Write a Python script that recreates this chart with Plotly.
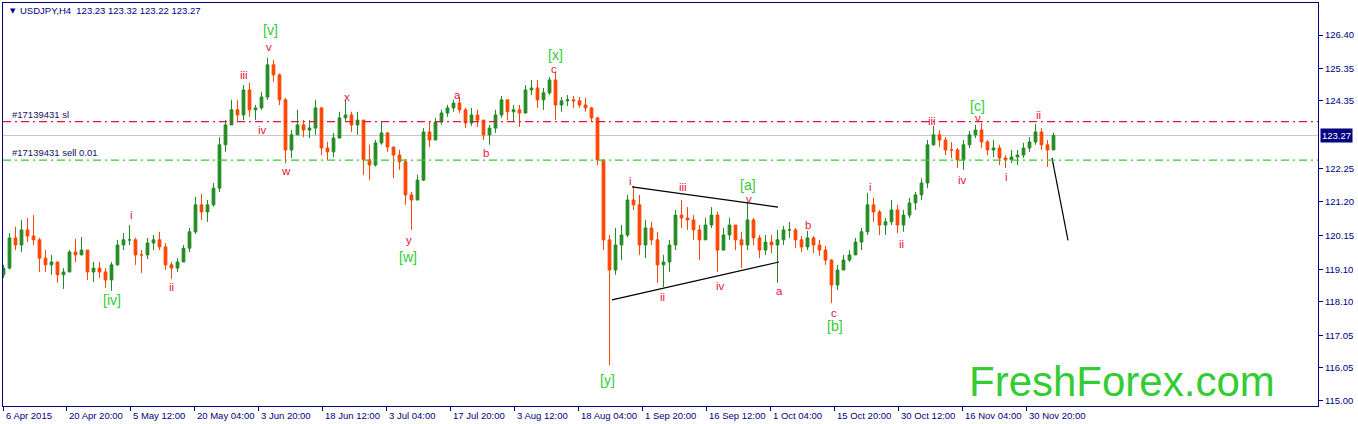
import plotly.graph_objects as go
from datetime import datetime, timedelta

# ---------------- DATA (USDJPY, aggregated to daily candles) ----------------
first_open = 118.93
closes = [119.14, 120.08, 119.86, 120.33, 120.14, 120.02, 119.45, 119.24, 119.33, 118.93,
          119.02, 119.64, 119.55, 119.70, 119.02, 119.14, 119.02, 118.77, 119.24, 119.86,
          120.02, 120.02, 119.55, 119.55, 119.92, 120.02, 119.80, 119.24, 119.14, 119.33,
          119.76, 120.27, 121.11, 120.89, 121.11, 121.63, 122.98, 123.60, 124.07, 123.91,
          124.69, 124.07, 124.13, 124.47, 125.47, 125.16, 124.38, 122.82, 123.29, 123.60,
          123.44, 123.50, 124.13, 122.88, 122.76, 123.19, 123.82, 123.91, 123.60, 123.75,
          122.51, 122.35, 123.04, 123.35, 122.91, 122.66, 122.45, 121.42, 121.26, 121.88,
          123.38, 123.13, 123.69, 123.97, 124.13, 124.28, 124.07, 123.66, 123.91, 123.75,
          123.29, 123.50, 123.91, 124.38, 124.01, 124.07, 123.97, 124.69, 124.75, 124.38,
          124.60, 125.00, 124.22, 124.35, 124.38, 124.35, 124.22, 124.13, 123.82, 122.51,
          120.02, 119.08, 119.86, 120.17, 121.26, 121.11, 119.86, 120.39, 120.02, 119.24,
          119.33, 119.86, 120.79, 120.70, 120.64, 120.33, 120.02, 120.48, 120.79, 119.70,
          120.17, 120.48, 120.02, 119.86, 120.64, 120.08, 119.70, 119.95, 119.86, 120.02,
          120.33, 120.33, 120.02, 119.80, 120.08, 119.86, 119.70, 119.39, 118.61, 119.08,
          119.39, 119.55, 119.95, 120.27, 121.11, 120.89, 120.48, 120.58, 120.95, 120.48,
          120.79, 121.17, 121.42, 121.79, 122.98, 123.29, 123.13, 122.82, 122.82, 122.51,
          122.98, 123.29, 123.44, 123.07, 122.82, 122.88, 122.57, 122.51, 122.60, 122.66,
          122.88, 123.07, 123.38, 122.98, 122.82, 123.27]
highs = [119.24, 120.23, 120.42, 120.64, 120.70, 120.79, 120.08, 119.70, 119.55, 119.33,
         119.14, 119.70, 120.05, 120.11, 119.70, 119.33, 119.33, 119.14, 119.33, 120.02,
         120.23, 120.48, 120.08, 119.70, 120.08, 120.17, 120.27, 119.92, 119.33, 119.45,
         119.86, 120.39, 121.36, 121.45, 121.26, 121.79, 123.22, 123.75, 124.38, 124.38,
         124.84, 124.91, 124.22, 124.63, 125.69, 125.62, 125.20, 124.44, 123.44, 124.07,
         123.75, 123.75, 124.38, 124.15, 123.07, 123.35, 124.01, 124.38, 124.01, 124.01,
         123.75, 122.98, 123.13, 123.69, 123.38, 122.91, 122.82, 122.54, 121.51, 122.04,
         123.50, 123.69, 123.82, 124.07, 124.22, 124.38, 124.47, 124.13, 124.13, 124.07,
         123.75, 123.60, 124.07, 124.50, 124.38, 124.22, 124.22, 124.84, 125.00, 125.00,
         124.75, 125.09, 125.25, 124.47, 124.53, 124.50, 124.47, 124.44, 124.16, 123.82,
         122.51, 120.17, 120.39, 120.48, 121.42, 121.70, 121.42, 120.64, 120.58, 120.27,
         119.55, 120.02, 120.95, 121.26, 121.04, 120.79, 120.48, 120.70, 121.04, 120.89,
         120.39, 120.70, 120.48, 120.27, 121.20, 120.70, 120.17, 120.17, 120.17, 120.33,
         120.45, 120.58, 120.39, 120.14, 120.30, 120.14, 120.02, 119.83, 119.42, 119.24,
         119.55, 119.70, 120.08, 120.39, 121.48, 121.33, 120.95, 120.70, 121.26, 121.11,
         120.95, 121.33, 121.51, 121.94, 123.13, 123.57, 123.44, 123.22, 123.07, 122.88,
         123.13, 123.41, 123.60, 123.66, 123.13, 123.13, 122.98, 122.66, 122.82, 122.82,
         123.04, 123.22, 123.63, 123.50, 123.13, 123.35]
lows = [118.83, 119.10, 119.70, 119.64, 119.95, 119.86, 119.02, 119.02, 118.93, 118.68,
        118.49, 119.02, 119.33, 119.55, 118.77, 118.71, 118.83, 118.52, 118.43, 119.21,
        119.70, 119.86, 119.24, 118.99, 119.42, 119.70, 119.70, 119.08, 118.80, 119.02,
        119.33, 119.64, 120.20, 120.64, 120.58, 121.05, 121.51, 122.76, 123.60, 123.69,
        123.75, 123.85, 123.75, 124.07, 124.38, 124.94, 124.22, 122.41, 122.57, 123.29,
        123.22, 123.19, 123.29, 122.66, 122.51, 122.60, 123.19, 123.69, 123.38, 123.29,
        122.04, 121.88, 122.30, 122.98, 122.76, 121.94, 122.20, 121.11, 120.33, 121.26,
        121.85, 122.91, 123.19, 123.60, 123.85, 124.01, 123.97, 123.50, 123.57, 123.54,
        123.13, 122.98, 123.35, 123.82, 123.75, 123.69, 123.54, 123.95, 124.53, 124.13,
        124.07, 124.53, 123.75, 124.01, 124.19, 124.13, 124.13, 124.01, 123.69, 122.35,
        119.70, 116.12, 118.93, 119.39, 120.10, 120.95, 119.55, 119.45, 119.86, 118.68,
        118.55, 119.02, 119.70, 120.39, 120.33, 120.02, 119.39, 120.02, 120.39, 119.02,
        119.70, 120.02, 119.70, 119.14, 119.70, 119.86, 119.45, 119.55, 119.61, 118.68,
        119.86, 120.08, 119.76, 119.64, 119.70, 119.61, 119.52, 119.24, 118.05, 118.46,
        119.08, 119.33, 119.55, 119.70, 120.17, 120.58, 120.17, 120.17, 120.48, 120.23,
        120.27, 120.70, 120.95, 121.26, 121.63, 122.95, 122.91, 122.66, 122.57, 122.26,
        122.20, 122.88, 123.19, 122.88, 122.66, 122.60, 122.35, 122.26, 122.41, 122.35,
        122.57, 122.76, 122.98, 122.82, 122.29, 122.82]

header_text = "USDJPY,H4  123.23 123.32 123.22 123.27"
current_price = 123.27
sl_price = 123.70
entry_price = 122.50
sl_label = "#17139431 sl"
entry_label = "#17139431 sell 0.01"

x_tick_labels = ["6 Apr 2015", "20 Apr 20:00", "5 May 12:00", "20 May 04:00", "3 Jun 20:00",
                 "18 Jun 12:00", "3 Jul 04:00", "17 Jul 20:00", "3 Aug 12:00", "18 Aug 04:00",
                 "1 Sep 20:00", "16 Sep 12:00", "1 Oct 04:00", "15 Oct 20:00", "30 Oct 12:00",
                 "16 Nov 04:00", "30 Nov 20:00"]
y_ticks = [115.00, 116.05, 117.05, 118.10, 119.10, 120.15, 121.20, 122.25, 124.35, 125.35, 126.40]

# Elliott wave labels: (text, H4 bar index, price)
wave_text = ["[iv]", "i", "ii", "iii", "iv", "v", "[v]", "w", "x", "y", "[w]", "a", "b", "c", "[x]",
             "[y]", "i", "ii", "iii", "iv", "[a]", "v", "a", "b", "c", "[b]", "i", "ii", "iii", "iv",
             "[c]", "v", "i", "ii"]
wave_bar = [111, 130, 170, 243, 261, 268, 269, 285, 346, 408, 407, 456, 485, 553, 554,
            606, 629, 661, 682, 719, 747, 748, 778, 807, 833, 834, 869, 900, 931, 961,
            976, 977, 1005, 1037]
wave_price = [118.15, 120.79, 118.55, 125.16, 123.44, 126.03, 126.55, 122.16, 124.47, 120.02,
              119.50, 124.53, 122.73, 125.35, 125.77, 115.65, 121.85, 118.24, 121.67, 118.58,
              121.74, 121.30, 118.43, 120.48, 117.74, 117.34, 121.67, 119.89, 123.72, 121.88,
              124.18, 123.83, 121.98, 123.91]

# trend lines (bar index, price)
tri_upper_bar = [631, 777]
tri_upper_price = [121.67, 121.04]
tri_lower_bar = [611, 778]
tri_lower_price = [118.15, 119.33]
proj_bar = [1051, 1067]
proj_price = [122.57, 120.00]

# ---------------- helpers ----------------
START = datetime(2015, 4, 6)
BARS_PER_DAY = 6


def bar_index(dt):
    days = 0
    d = START
    while d.date() < dt.date():
        if d.weekday() < 5:
            days += 1
        d += timedelta(days=1)
    return days * BARS_PER_DAY + dt.hour // 4


def parse_label(s):
    if ":" in s:
        return datetime.strptime(s + " 2015", "%d %b %H:%M %Y")
    return datetime.strptime(s, "%d %b %Y")


X0, X1 = 2, 1317
Y0, Y1 = 114.844, 127.397
NAVY = "#000080"
GREEN_C = "#228B22"
RED_C = "#FF4500"
LABEL_RED = "#E8103C"
LABEL_GREEN = "#32CD32"
FONT = "Liberation Sans, Arial, sans-serif"

opens = [first_open] + closes[:-1]
xs = [BARS_PER_DAY * i + 2.5 for i in range(len(closes))]

fig = go.Figure()
fig.add_trace(go.Candlestick(
    x=xs, open=opens, high=highs, low=lows, close=closes,
    increasing=dict(line=dict(color=GREEN_C, width=1), fillcolor=GREEN_C),
    decreasing=dict(line=dict(color=RED_C, width=1), fillcolor=RED_C),
    whiskerwidth=0, showlegend=False, hoverinfo="skip"))

for bx, py in ((tri_upper_bar, tri_upper_price), (tri_lower_bar, tri_lower_price), (proj_bar, proj_price)):
    fig.add_trace(go.Scatter(x=bx, y=py, mode="lines", line=dict(color="black", width=1.2),
                             showlegend=False, hoverinfo="skip"))

shapes = []
shapes.append(dict(type="line", xref="paper", x0=0, x1=1, yref="y", y0=current_price, y1=current_price,
                   line=dict(color="#C8C8C8", width=1), layer="below"))
shapes.append(dict(type="line", xref="paper", x0=0, x1=1, yref="y", y0=sl_price, y1=sl_price,
                   line=dict(color="#EB143C", width=1.2, dash="8px,4px,2px,4px")))
shapes.append(dict(type="line", xref="paper", x0=0, x1=1, yref="y", y0=entry_price, y1=entry_price,
                   line=dict(color=LABEL_GREEN, width=1.2, dash="8px,4px,2px,4px")))

ann = []
for t, b, p in zip(wave_text, wave_bar, wave_price):
    green = t.startswith("[")
    ann.append(dict(x=b, y=p, xref="x", yref="y", text=t, showarrow=False,
                    font=dict(family=FONT, size=14 if green else 11.5,
                              color=LABEL_GREEN if green else LABEL_RED),
                    xanchor="center", yanchor="middle"))

plot_w = 1315.0
tick_vals = [max(bar_index(parse_label(l)), X0) for l in x_tick_labels]
for lab, b in zip(x_tick_labels, tick_vals):
    ann.append(dict(x=b, y=0, xref="x", yref="paper", text=lab, showarrow=False,
                    xanchor="left", yanchor="top", xshift=1, yshift=-2,
                    font=dict(family=FONT, size=9.5, color=NAVY)))

ann.append(dict(x=7 / plot_w, y=sl_price, xref="paper", yref="y", text=sl_label, showarrow=False,
                xanchor="left", yanchor="bottom", font=dict(family=FONT, size=9.5, color="#101060")))
ann.append(dict(x=7 / plot_w, y=entry_price, xref="paper", yref="y", text=entry_label, showarrow=False,
                xanchor="left", yanchor="bottom", font=dict(family=FONT, size=9.5, color="#101060")))
ann.append(dict(x=5 / plot_w, y=395 / 403, xref="paper", yref="paper", text="▼", showarrow=False,
                xanchor="left", yanchor="middle", font=dict(family="DejaVu Sans", size=7, color=NAVY)))
ann.append(dict(x=15 / plot_w, y=395 / 403, xref="paper", yref="paper", text=header_text, showarrow=False,
                xanchor="left", yanchor="middle", font=dict(family=FONT, size=9.5, color=NAVY)))
ann.append(dict(x=1, y=current_price, xref="paper", yref="y", text="%.2f" % current_price, showarrow=False,
                xanchor="left", yanchor="middle", xshift=2, bgcolor=NAVY, borderpad=1,
                font=dict(family=FONT, size=9.5, color="white")))
ann.append(dict(x=964 / plot_w, y=25 / 403, xref="paper", yref="paper", text="FreshForex.com", showarrow=False,
                xanchor="left", yanchor="middle",
                font=dict(family="Liberation Sans, Arial, sans-serif", size=42, color="#33CC33")))

fig.update_layout(
    width=1358, height=424,
    margin=dict(l=3, r=40, t=3, b=18),
    paper_bgcolor="white", plot_bgcolor="white",
    boxgap=0.35,
    shapes=shapes, annotations=ann,
    xaxis=dict(range=[X0, X1], showgrid=False, zeroline=False, showline=True, mirror=True,
               linecolor=NAVY, linewidth=1, ticks="outside", ticklen=4, tickcolor=NAVY,
               tickvals=tick_vals, showticklabels=False, rangeslider=dict(visible=False),
               fixedrange=True),
    yaxis=dict(range=[Y0, Y1], side="right", showgrid=False, zeroline=False, showline=True,
               mirror=True, linecolor=NAVY, linewidth=1, ticks="outside", ticklen=4, tickcolor=NAVY,
               tickvals=y_ticks, ticktext=["%.2f" % v for v in y_ticks],
               tickfont=dict(family=FONT, size=9.5, color=NAVY), fixedrange=True),
    showlegend=False,
)

fig.write_html("out.html", config={"displayModeBar": False},
               post_script="document.body.style.margin='0';document.body.style.overflow='hidden';")
